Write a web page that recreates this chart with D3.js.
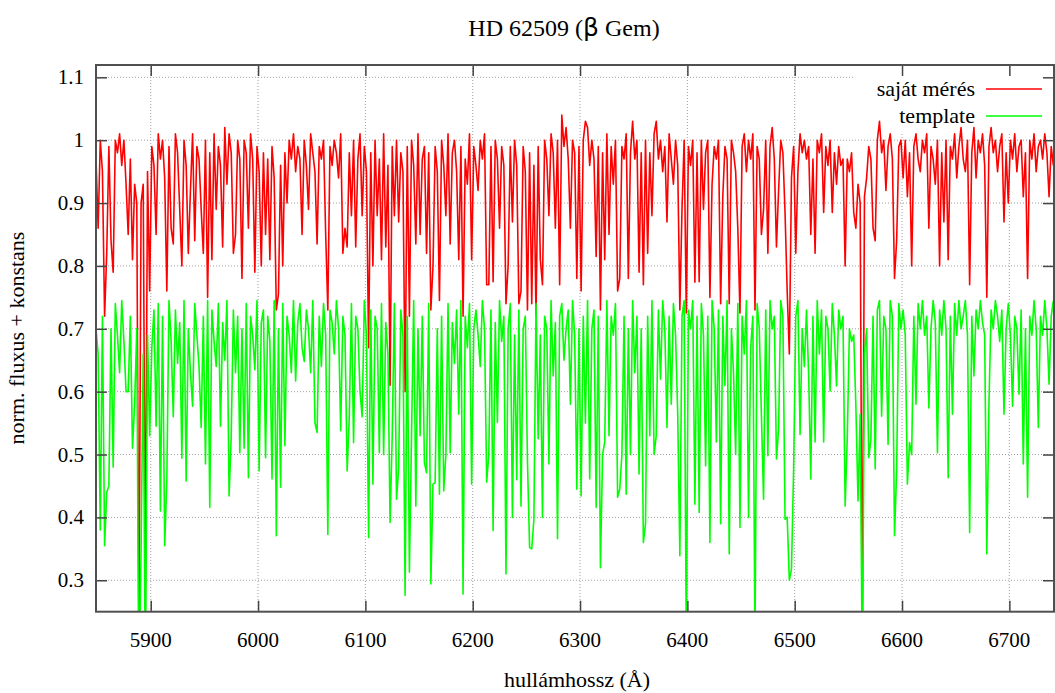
<!DOCTYPE html>
<html><head><meta charset="utf-8">
<script src="https://cdn.jsdelivr.net/npm/d3@7"></script>
<style>html,body{margin:0;padding:0;background:#fff}svg{display:block}</style>
</head><body>
<script>
// wavelength grid of the spectra (Angstrom)
const lambdaStart = 5849, lambdaStep = 2;
// measured spectrum ("saját mérés"), normalised flux
const measured = [0.97,0.86,1.00,0.95,0.72,0.82,0.99,0.84,0.79,1.00,
 0.98,1.01,0.96,1.00,0.93,0.85,0.97,0.81,0.93,0.90,
 0.22,0.90,0.93,0.29,0.95,0.76,0.99,0.96,0.85,1.01,
 0.97,1.00,0.94,0.76,0.99,0.86,0.835,1.01,0.98,0.89,
 0.80,1.00,0.96,0.82,0.92,1.01,0.84,0.99,0.97,0.89,
 0.82,1.00,0.75,0.98,0.81,1.01,0.89,0.99,0.96,0.83,
 1.02,0.93,1.01,0.98,0.82,0.85,1.00,0.97,0.78,1.00,
 0.98,0.86,1.01,0.97,0.79,0.99,0.95,0.80,0.98,0.85,
 0.97,0.81,0.99,0.94,0.73,0.755,0.96,0.80,0.98,0.90,
 1.00,0.97,1.01,0.95,0.99,0.97,0.85,1.00,0.96,0.89,
 1.01,0.98,0.95,0.835,0.99,0.97,1.00,0.85,0.73,0.99,
 0.96,1.00,0.98,0.94,1.01,0.82,0.86,0.83,0.98,0.88,
 1.00,0.83,0.97,1.01,0.88,0.99,0.95,0.67,0.98,0.80,
 1.00,0.88,0.97,0.81,1.01,0.83,0.96,0.61,0.99,0.88,
 1.00,0.87,0.98,0.95,0.60,0.99,0.72,1.00,0.96,0.835,
 1.01,0.85,0.97,0.99,0.82,0.98,0.73,0.80,0.99,0.95,
 0.745,1.00,0.96,0.88,1.01,0.835,0.98,1.00,0.95,0.81,
 0.99,0.72,0.97,0.93,1.01,0.81,0.99,0.96,0.92,1.00,
 0.97,1.01,0.77,0.77,0.99,0.775,1.00,0.97,0.86,0.99,
 0.96,0.74,0.80,0.99,0.87,1.00,0.96,0.74,0.76,0.99,
 0.95,0.73,0.98,0.74,0.96,0.72,0.99,0.81,0.77,1.00,
 0.97,0.88,1.01,0.98,0.86,1.00,0.77,1.04,0.99,1.02,
 0.97,0.86,1.00,0.98,0.78,0.99,0.76,1.00,1.03,1.02,
 0.96,1.00,0.97,0.815,0.99,0.73,0.98,0.81,1.01,0.85,
 0.99,0.93,1.00,0.76,0.78,0.99,0.97,1.01,0.78,0.98,
 1.03,0.97,1.00,0.79,0.98,0.77,1.00,0.82,0.98,0.88,
 1.01,1.03,0.97,1.00,0.95,0.99,0.87,1.01,0.97,0.93,
 1.00,0.96,0.73,0.89,1.00,0.725,0.99,0.96,1.00,0.774,
 0.98,0.775,1.00,0.89,0.98,1.00,0.75,0.93,0.99,0.97,
 1.00,0.74,0.91,0.99,0.97,0.74,1.00,0.98,0.95,0.86,
 0.725,0.99,1.01,0.95,1.00,0.97,1.01,0.73,0.99,0.97,
 0.85,0.89,1.00,0.82,0.99,1.02,0.97,0.83,0.92,1.00,
 0.98,0.885,0.76,0.66,0.94,0.99,0.82,0.95,1.01,0.98,
 1.00,0.97,0.99,0.85,0.97,0.82,1.00,0.98,1.01,0.885,
 0.99,0.96,1.00,0.885,0.98,0.93,0.99,0.96,0.97,0.80,
 0.97,0.95,0.98,0.885,0.86,0.93,0.90,0.20,0.91,0.94,
 0.99,0.97,0.86,0.84,1.00,1.03,0.98,1.00,0.92,0.99,
 1.01,0.97,0.78,0.84,0.99,1.00,0.94,1.00,0.91,0.98,
 0.80,0.99,1.01,0.97,0.95,1.00,0.98,1.01,0.86,0.99,
 0.97,0.93,1.00,0.80,0.98,0.87,1.00,0.81,0.99,0.97,
 1.01,0.94,0.99,1.02,0.97,0.95,1.00,0.77,0.98,1.02,
 0.94,1.00,0.98,1.01,0.96,0.75,0.99,1.02,0.98,1.00,
 0.95,0.99,1.01,0.87,0.98,0.90,1.00,0.97,1.01,0.95,
 0.99,1.00,0.91,0.98,0.78,1.00,0.97,1.01,0.95,0.99,
 1.00,0.97,1.01,0.98,0.91,0.99,0.96];
// template spectrum, normalised flux + constant
const template = [0.70,0.66,0.38,0.72,0.355,0.44,0.45,0.70,0.48,0.74,
 0.69,0.63,0.745,0.68,0.60,0.60,0.72,0.51,0.58,0.70,
 0.10,0.35,0.66,0.12,0.69,0.53,0.67,0.73,0.545,0.74,
 0.41,0.72,0.355,0.46,0.745,0.68,0.56,0.73,0.645,0.71,
 0.494,0.745,0.458,0.70,0.63,0.577,0.74,0.69,0.64,0.543,
 0.72,0.485,0.745,0.416,0.73,0.68,0.64,0.74,0.545,0.71,
 0.65,0.745,0.434,0.53,0.73,0.63,0.72,0.503,0.70,0.51,
 0.74,0.463,0.72,0.69,0.635,0.745,0.474,0.71,0.73,0.495,
 0.72,0.68,0.461,0.745,0.371,0.70,0.448,0.74,0.514,0.72,
 0.69,0.63,0.745,0.617,0.71,0.74,0.67,0.648,0.73,0.70,
 0.63,0.745,0.551,0.535,0.72,0.64,0.74,0.69,0.373,0.73,
 0.71,0.66,0.745,0.70,0.538,0.72,0.69,0.474,0.56,0.74,
 0.519,0.72,0.70,0.60,0.56,0.745,0.69,0.368,0.73,0.453,
 0.72,0.70,0.503,0.74,0.50,0.71,0.66,0.392,0.53,0.74,
 0.429,0.477,0.73,0.69,0.276,0.72,0.313,0.53,0.745,0.418,
 0.70,0.53,0.72,0.487,0.471,0.74,0.294,0.453,0.455,0.70,
 0.437,0.72,0.442,0.50,0.74,0.503,0.71,0.645,0.73,0.564,
 0.745,0.278,0.72,0.67,0.74,0.453,0.70,0.73,0.69,0.64,
 0.745,0.70,0.456,0.50,0.73,0.379,0.71,0.551,0.745,0.68,
 0.72,0.31,0.70,0.74,0.40,0.69,0.46,0.73,0.418,0.70,
 0.72,0.49,0.352,0.35,0.397,0.74,0.525,0.69,0.40,0.72,
 0.70,0.485,0.745,0.625,0.71,0.366,0.72,0.74,0.65,0.70,
 0.73,0.58,0.745,0.69,0.445,0.70,0.434,0.72,0.55,0.745,
 0.461,0.70,0.73,0.416,0.72,0.32,0.50,0.52,0.745,0.53,
 0.72,0.69,0.74,0.432,0.445,0.50,0.72,0.437,0.70,0.50,
 0.745,0.63,0.72,0.469,0.70,0.36,0.39,0.72,0.53,0.745,
 0.50,0.53,0.73,0.62,0.745,0.70,0.543,0.72,0.58,0.74,
 0.69,0.564,0.339,0.72,0.745,0.20,0.73,0.70,0.745,0.421,
 0.72,0.408,0.74,0.69,0.482,0.72,0.36,0.745,0.70,0.52,
 0.73,0.39,0.72,0.61,0.745,0.342,0.70,0.63,0.50,0.74,
 0.384,0.72,0.66,0.745,0.40,0.67,0.72,0.20,0.74,0.70,
 0.561,0.429,0.73,0.498,0.745,0.70,0.72,0.493,0.54,0.745,
 0.72,0.397,0.40,0.30,0.318,0.477,0.72,0.745,0.532,0.70,
 0.64,0.73,0.627,0.461,0.72,0.52,0.745,0.66,0.73,0.52,
 0.72,0.70,0.601,0.74,0.69,0.609,0.73,0.70,0.72,0.418,
 0.527,0.70,0.68,0.69,0.577,0.426,0.564,0.15,0.66,0.70,
 0.495,0.524,0.72,0.477,0.73,0.745,0.561,0.72,0.70,0.516,
 0.745,0.72,0.371,0.474,0.74,0.70,0.73,0.69,0.453,0.519,
 0.50,0.72,0.58,0.74,0.70,0.745,0.69,0.72,0.574,0.70,
 0.745,0.71,0.503,0.73,0.69,0.745,0.70,0.463,0.72,0.564,
 0.74,0.69,0.745,0.70,0.72,0.745,0.69,0.376,0.72,0.625,
 0.73,0.70,0.745,0.71,0.69,0.342,0.58,0.73,0.70,0.745,
 0.72,0.68,0.73,0.564,0.70,0.74,0.69,0.577,0.72,0.70,
 0.596,0.73,0.485,0.70,0.432,0.72,0.69,0.745,0.70,0.543,
 0.72,0.69,0.745,0.70,0.612,0.72,0.745];
const xTicks = [5900,6000,6100,6200,6300,6400,6500,6600,6700];
const yTicks = [0.3,0.4,0.5,0.6,0.7,0.8,0.9,1.0,1.1];
const yTickLabels = ["0.3","0.4","0.5","0.6","0.7","0.8","0.9","1","1.1"];
const seriesNames = ["saját mérés","template"];
const seriesColors = ["#ff0000","#00ff00"];

const W = 1055, H = 693;
const m = {left:96, right:1054, top:65, bottom:611.7};
const x = d3.scaleLinear().domain([5849, 6741.6]).range([m.left, m.right]);
const y = d3.scaleLinear().domain([0.25, 1.1196]).range([m.bottom, m.top]);
const font = "'Liberation Serif','Times New Roman',serif";

const svg = d3.select("body").append("svg").attr("width", W).attr("height", H);
svg.append("defs").append("clipPath").attr("id","clip")
  .append("rect").attr("x",m.left).attr("y",m.top).attr("width",m.right-m.left).attr("height",m.bottom-m.top);

// grid
const grid = svg.append("g").attr("stroke","#a0a0a0").attr("stroke-width",1).attr("stroke-dasharray","1,2");
grid.selectAll(".gx").data(xTicks).join("line")
  .attr("x1",d=>x(d)).attr("x2",d=>x(d)).attr("y1",m.top).attr("y2",m.bottom);
grid.selectAll(".gy").data(yTicks).join("line")
  .attr("x1",m.left).attr("x2",m.right).attr("y1",d=>y(d)).attr("y2",d=>y(d));

// opaque key box
svg.append("rect").attr("x",853).attr("y",m.top+1).attr("width",m.right-853).attr("height",131-m.top).attr("fill","#fff");

// data
const wl = measured.map((_, i) => lambdaStart + i*lambdaStep);
const line = d3.line().x((d,i)=>x(wl[i])).y(d=>y(d));
const dg = svg.append("g").attr("clip-path","url(#clip)");
[measured, template].forEach((s, k) => {
  dg.append("path").datum(s).attr("d", line).attr("fill","none")
    .attr("stroke", seriesColors[k]).attr("stroke-width",1.6).attr("stroke-linejoin","round");
});

// axes (ticks inward, mirrored)
const tickLen = 11;
const axB = d3.axisBottom(x).tickValues(xTicks).tickSize(-tickLen).tickFormat("");
const axT = d3.axisTop(x).tickValues(xTicks).tickSize(-tickLen).tickFormat("");
const axL = d3.axisLeft(y).tickValues(yTicks).tickSize(-tickLen).tickFormat("");
const axR = d3.axisRight(y).tickValues(yTicks).tickSize(-tickLen).tickFormat("");
[[axB,`translate(0,${m.bottom})`],[axT,`translate(0,${m.top})`],[axL,`translate(${m.left},0)`],[axR,`translate(${m.right},0)`]]
 .forEach(([a,t]) => {
   const g = svg.append("g").attr("transform",t).call(a);
   g.select(".domain").remove();
   g.selectAll("line").attr("stroke","#444").attr("stroke-width",1.5);
 });
svg.append("rect").attr("x",m.left).attr("y",m.top).attr("width",m.right-m.left).attr("height",m.bottom-m.top)
  .attr("fill","none").attr("stroke","#505050").attr("stroke-width",2);

// tick labels
svg.append("g").selectAll("text").data(xTicks).join("text")
  .attr("x",d=>x(d)).attr("y",646.5).attr("text-anchor","middle")
  .attr("font-family",font).attr("font-size",21).attr("fill","#000").text(d=>d);
svg.append("g").selectAll("text").data(yTicks).join("text")
  .attr("x",84).attr("y",d=>y(d)+7).attr("text-anchor","end")
  .attr("font-family",font).attr("font-size",21).attr("fill","#000").text((d,i)=>yTickLabels[i]);

// titles
const t = svg.append("text").attr("x",564).attr("y",36).attr("text-anchor","middle")
  .attr("font-family",font).attr("font-size",24).attr("fill","#000");
t.append("tspan").text("HD 62509 (");
t.append("tspan").attr("font-family","'DejaVu Sans',sans-serif").attr("font-size",25).text("β");
t.append("tspan").text(" Gem)");
svg.append("text").attr("x",577).attr("y",687).attr("text-anchor","middle")
  .attr("font-family",font).attr("font-size",22).attr("fill","#000").text("hullámhossz (Å)");
svg.append("text").attr("transform","translate(24,338) rotate(-90)").attr("text-anchor","middle")
  .attr("font-family",font).attr("font-size",22).attr("fill","#000").text("norm. fluxus + konstans");

// legend
const lg = svg.append("g");
seriesNames.forEach((n,k) => {
  const ly = 89 + k*27;
  lg.append("text").attr("x",975).attr("y",ly+7).attr("text-anchor","end")
    .attr("font-family",font).attr("font-size",22).attr("fill","#000").text(n);
  lg.append("line").attr("x1",986).attr("x2",1042).attr("y1",ly).attr("y2",ly)
    .attr("stroke",seriesColors[k]).attr("stroke-width",1.5);
});
</script>
</body></html>
